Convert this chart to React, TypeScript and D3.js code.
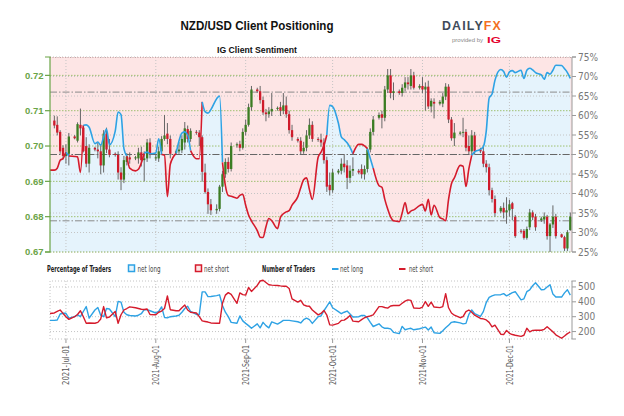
import React from "react";
import * as d3 from "d3";

// ---------- DATA ----------
// trading sessions shown on the chart (every day except Saturday), 2021-06-25 .. 2021-12-22
const sessions = d3.utcDay
  .range(new Date(Date.UTC(2021, 5, 25)), new Date(Date.UTC(2021, 11, 23)))
  .filter((d) => d.getUTCDay() !== 6);

// NZD/USD daily candles: [open, high, low, close]
const ohlc = [
  [0.7050, 0.7078, 0.7042, 0.7068], [0.7072, 0.7086, 0.7050, 0.7058], [0.7060, 0.7084, 0.7030, 0.7038], [0.7040, 0.7045, 0.6978, 0.6985], [0.6995, 0.7002, 0.6962, 0.6972],
  [0.6972, 0.7005, 0.6950, 0.6980], [0.6978, 0.7037, 0.6945, 0.7027], [0.7027, 0.7031, 0.7019, 0.7022], [0.7015, 0.7067, 0.7010, 0.7062], [0.7060, 0.7106, 0.7030, 0.7050],
  [0.7052, 0.7058, 0.6982, 0.6985], [0.7000, 0.7025, 0.6940, 0.6950], [0.6950, 0.7005, 0.6925, 0.6995], [0.6995, 0.6998, 0.6985, 0.6990], [0.6990, 0.7010, 0.6965, 0.6985],
  [0.6985, 0.7005, 0.6920, 0.6945], [0.6945, 0.7045, 0.6925, 0.7035], [0.7035, 0.7052, 0.6980, 0.6990], [0.6990, 0.7020, 0.6968, 0.6975], [0.6978, 0.6982, 0.6970, 0.6975],
  [0.6975, 0.6985, 0.6905, 0.6925], [0.6925, 0.6940, 0.6875, 0.6905], [0.6905, 0.6972, 0.6895, 0.6960], [0.6955, 0.6980, 0.6945, 0.6970], [0.6968, 0.6982, 0.6950, 0.6962],
  [0.6965, 0.6972, 0.6960, 0.6968], [0.6965, 0.6995, 0.6950, 0.6982], [0.6982, 0.6998, 0.6942, 0.6960], [0.6960, 0.6985, 0.6900, 0.6965], [0.6965, 0.7020, 0.6955, 0.7010],
  [0.7010, 0.7022, 0.6965, 0.6975], [0.6965, 0.6975, 0.6958, 0.6968], [0.6965, 0.6998, 0.6955, 0.6985], [0.6985, 0.7028, 0.6975, 0.7020], [0.7020, 0.7088, 0.7015, 0.7030],
  [0.7035, 0.7065, 0.7005, 0.7020], [0.7020, 0.7030, 0.6965, 0.6978], [0.6980, 0.6990, 0.6975, 0.6985], [0.6985, 0.7012, 0.6978, 0.6990], [0.6988, 0.7030, 0.6980, 0.7020],
  [0.7010, 0.7068, 0.6990, 0.7050], [0.7048, 0.7058, 0.7010, 0.7020], [0.7020, 0.7050, 0.7012, 0.7043], [0.7040, 0.7045, 0.7032, 0.7038], [0.7038, 0.7045, 0.7000, 0.7025],
  [0.7025, 0.7030, 0.6899, 0.6927], [0.6925, 0.6950, 0.6865, 0.6870], [0.6870, 0.6880, 0.6808, 0.6835], [0.6835, 0.6850, 0.6805, 0.6818], [0.6818, 0.6835, 0.6808, 0.6822],
  [0.6822, 0.6890, 0.6815, 0.6885], [0.6885, 0.6930, 0.6870, 0.6920], [0.6920, 0.6965, 0.6910, 0.6955], [0.6955, 0.6968, 0.6925, 0.6935], [0.6935, 0.7010, 0.6928, 0.7000],
  [0.7002, 0.7010, 0.6995, 0.7005], [0.7005, 0.7015, 0.6985, 0.6995], [0.6995, 0.7050, 0.6990, 0.7040], [0.7040, 0.7075, 0.7030, 0.7060], [0.7060, 0.7120, 0.7055, 0.7110],
  [0.7110, 0.7170, 0.7100, 0.7160], [0.7160, 0.7165, 0.7150, 0.7155], [0.7155, 0.7170, 0.7120, 0.7130], [0.7130, 0.7140, 0.7088, 0.7095], [0.7095, 0.7105, 0.7070, 0.7090],
  [0.7090, 0.7110, 0.7080, 0.7098], [0.7098, 0.7150, 0.7085, 0.7105], [0.7105, 0.7112, 0.7100, 0.7108], [0.7110, 0.7125, 0.7085, 0.7100], [0.7100, 0.7150, 0.7090, 0.7115],
  [0.7115, 0.7140, 0.7080, 0.7090], [0.7090, 0.7100, 0.7035, 0.7045], [0.7045, 0.7060, 0.7015, 0.7025], [0.7020, 0.7025, 0.7010, 0.7015], [0.7015, 0.7025, 0.6975, 0.6985],
  [0.6985, 0.7012, 0.6978, 0.6995], [0.6995, 0.7045, 0.6985, 0.7030], [0.7030, 0.7078, 0.7020, 0.7060], [0.7060, 0.7070, 0.7012, 0.7020], [0.7020, 0.7025, 0.7012, 0.7018],
  [0.7018, 0.7035, 0.6998, 0.7010], [0.7010, 0.7022, 0.6950, 0.6960], [0.6960, 0.6970, 0.6870, 0.6885], [0.6890, 0.6925, 0.6860, 0.6875], [0.6875, 0.6935, 0.6868, 0.6925],
  [0.6925, 0.6935, 0.6920, 0.6930], [0.6930, 0.6965, 0.6920, 0.6950], [0.6950, 0.6975, 0.6925, 0.6940], [0.6945, 0.6960, 0.6878, 0.6910], [0.6910, 0.6945, 0.6895, 0.6930],
  [0.6930, 0.6968, 0.6915, 0.6935], [0.6930, 0.6935, 0.6920, 0.6925], [0.6935, 0.6948, 0.6908, 0.6920], [0.6920, 0.6945, 0.6905, 0.6935], [0.6935, 0.6995, 0.6925, 0.6990],
  [0.6990, 0.7050, 0.6982, 0.7040], [0.7040, 0.7085, 0.7030, 0.7075], [0.7080, 0.7095, 0.7075, 0.7088], [0.7090, 0.7100, 0.7050, 0.7080], [0.7080, 0.7170, 0.7070, 0.7160],
  [0.7160, 0.7218, 0.7150, 0.7200], [0.7200, 0.7218, 0.7135, 0.7150], [0.7150, 0.7180, 0.7130, 0.7155], [0.7155, 0.7160, 0.7145, 0.7150], [0.7150, 0.7175, 0.7140, 0.7165],
  [0.7165, 0.7195, 0.7155, 0.7180], [0.7180, 0.7195, 0.7160, 0.7175], [0.7170, 0.7218, 0.7160, 0.7200], [0.7200, 0.7210, 0.7160, 0.7165], [0.7165, 0.7175, 0.7160, 0.7170],
  [0.7170, 0.7195, 0.7150, 0.7160], [0.7160, 0.7180, 0.7100, 0.7168], [0.7168, 0.7185, 0.7105, 0.7112], [0.7112, 0.7135, 0.7095, 0.7128], [0.7125, 0.7135, 0.7078, 0.7120],
  [0.7120, 0.7130, 0.7115, 0.7125], [0.7120, 0.7150, 0.7110, 0.7140], [0.7140, 0.7178, 0.7130, 0.7168], [0.7168, 0.7175, 0.7065, 0.7075], [0.7075, 0.7082, 0.7015, 0.7022],
  [0.7022, 0.7065, 0.7000, 0.7038], [0.7035, 0.7042, 0.7030, 0.7038], [0.7038, 0.7080, 0.7025, 0.7040], [0.7040, 0.7048, 0.6985, 0.6995], [0.7000, 0.7030, 0.6975, 0.6985],
  [0.6985, 0.7045, 0.6975, 0.7030], [0.7030, 0.7040, 0.6975, 0.6985], [0.6990, 0.6995, 0.6980, 0.6985], [0.6985, 0.6998, 0.6940, 0.6950], [0.6950, 0.6960, 0.6925, 0.6940],
  [0.6940, 0.6950, 0.6860, 0.6875], [0.6875, 0.6882, 0.6840, 0.6850], [0.6850, 0.6860, 0.6800, 0.6810], [0.6815, 0.6830, 0.6810, 0.6825], [0.6825, 0.6840, 0.6795, 0.6812],
  [0.6812, 0.6855, 0.6780, 0.6818], [0.6818, 0.6848, 0.6800, 0.6835], [0.6838, 0.6842, 0.6790, 0.6822], [0.6800, 0.6805, 0.6740, 0.6745], [0.6760, 0.6765, 0.6752, 0.6758],
  [0.6760, 0.6765, 0.6735, 0.6740], [0.6740, 0.6772, 0.6735, 0.6765], [0.6770, 0.6822, 0.6762, 0.6812], [0.6812, 0.6818, 0.6790, 0.6798], [0.6800, 0.6808, 0.6760, 0.6770],
  [0.6790, 0.6800, 0.6785, 0.6795], [0.6792, 0.6812, 0.6780, 0.6800], [0.6800, 0.6805, 0.6735, 0.6745], [0.6745, 0.6782, 0.6700, 0.6778], [0.6778, 0.6832, 0.6768, 0.6800],
  [0.6800, 0.6808, 0.6738, 0.6745], [0.6750, 0.6752, 0.6740, 0.6742], [0.6742, 0.6746, 0.6703, 0.6710], [0.6710, 0.6762, 0.6703, 0.6756], [0.6762, 0.6812, 0.6760, 0.6800],
];

// IG client sentiment: % of traders net long
const netLongPct = [
  46.0, 46.0, 46.5, 48.5, 49.0, 50.6, 49.6, 49.5, 49.4, 45.4,
  57.5, 57.6, 57.0, 52.8, 53.2, 52.4, 54.5, 56.5, 52.5, 56.0,
  60.9, 60.2, 51.5, 49.6, 46.5, 45.8, 46.2, 47.8, 50.3, 50.6,
  50.2, 50.4, 54.0, 50.0, 49.8, 39.2, 47.5, 50.3, 53.5, 55.5,
  55.8, 55.0, 51.0, 48.9, 48.9, 63.5, 61.0, 60.6, 61.5, 64.3,
  65.0, 48.0, 42.0, 39.5, 39.3, 38.8, 39.5, 39.8, 37.0, 34.5,
  33.0, 30.5, 28.8, 28.7, 31.5, 33.6, 33.0, 31.0, 33.9, 34.8,
  35.3, 35.6, 37.0, 39.2, 41.5, 43.5, 44.0, 41.0, 38.5, 49.3,
  50.6, 52.3, 55.0, 62.6, 62.3, 58.0, 54.5, 53.8, 53.0, 51.8,
  50.2, 52.6, 52.6, 52.2, 51.5, 49.0, 46.5, 42.0, 41.6, 38.5,
  36.0, 34.0, 33.0, 32.8, 35.0, 37.7, 34.8, 35.5, 35.8, 36.9,
  37.2, 35.5, 38.5, 34.5, 37.0, 33.8, 33.5, 33.0, 38.5, 42.5,
  44.0, 47.2, 47.0, 41.8, 46.3, 49.8, 50.7, 51.3, 52.0, 56.0,
  64.5, 65.5, 69.0, 71.8, 71.3, 69.8, 71.2, 71.5, 71.0, 71.6,
  69.5, 71.6, 72.1, 71.7, 71.0, 70.4, 69.3, 71.0, 70.6, 71.6,
  72.9, 72.8, 72.0, 71.0, 69.5,
];

// dominant side of the positioning signal per session (L = net long, S = net short)
const positioningSide = (
  "SSSSS" + "L" + "SSSS" + "LLLLLLLLLLLLL" + "SSSSS" + "LLLLL" + "SSSS" + "LLLLL" + "SSS" + "LLLLLL" +
  "SSSSSSSSSSSSSSSSSSSSSSSSSSSSSSS" + "LLLLLLLL" + "SSSS" + "LL" +
  "SSSSSSSSSSSSSSSSSSSSSSSSSSSSS" + "LLLLLLLLLLLLLLLLLLLLLLLLLLLLLL"
).split("");

// number of traders
const longTraders = [
  275, 275, 278, 318, 323, 323, 290, 300, 312, 300,
  335, 368, 290, 345, 362, 310, 300, 355, 352, 300,
  403, 398, 330, 313, 308, 305, 310, 320, 347, 347,
  340, 325, 335, 366, 295, 292, 300, 305, 310, 330,
  355, 370, 335, 315, 315, 467, 467, 435, 436, 442,
  447, 375, 330, 300, 262, 256, 305, 272, 255, 240,
  222, 252, 225, 262, 240, 225, 265, 250, 262, 275,
  275, 275, 272, 266, 258, 280, 290, 280, 255, 300,
  305, 340, 370, 400, 360, 334, 320, 330, 338, 318,
  298, 300, 308, 308, 292, 262, 234, 252, 232, 222,
  222, 218, 195, 186, 235, 212, 218, 222, 212, 219,
  225, 230, 210, 230, 192, 188, 205, 225, 243, 262,
  266, 258, 252, 255, 315, 345, 320, 302, 334, 395,
  430, 440, 447, 448, 455, 440, 450, 462, 468, 413,
  420, 468, 480, 508, 528, 481, 483, 500, 515, 452,
  432, 432, 460, 481, 445,
];
const shortTraders = [
  320, 325, 335, 345, 322, 300, 282, 300, 315, 340,
  300, 256, 258, 256, 262, 285, 368, 292, 298, 335,
  256, 313, 345, 355, 366, 360, 355, 350, 348, 352,
  315, 313, 330, 338, 355, 440, 347, 340, 340, 360,
  378, 345, 330, 325, 300, 272, 268, 264, 258, 256,
  256, 390, 445, 462, 450, 390, 460, 448, 445, 496,
  470, 510, 540, 545, 530, 515, 512, 510, 507, 505,
  505, 490, 420, 398, 410, 380, 372, 370, 345, 312,
  322, 342, 311, 245, 243, 255, 275, 277, 290, 308,
  270, 266, 280, 293, 300, 305, 312, 368, 368, 362,
  358, 372, 375, 375, 390, 405, 413, 410, 358, 356,
  365, 402, 370, 398, 365, 361, 368, 455, 360, 325,
  310, 293, 300, 334, 345, 330, 310, 288, 285, 278,
  262, 232, 243, 182, 180, 208, 188, 180, 175, 168,
  175, 222, 198, 208, 209, 209, 215, 232, 215, 198,
  178, 155, 170, 186, 197,
];

const priceTicks = [0.67, 0.68, 0.69, 0.70, 0.71, 0.72];
const pctTicks = [25, 30, 35, 40, 45, 50, 55, 60, 65, 70, 75];
const sentimentBands = [33, 50, 66];
const traderTicks = [200, 300, 400, 500];
const monthTicks = ["2021-07-01", "2021-08-01", "2021-09-01", "2021-10-01", "2021-11-01", "2021-12-01"];
const monthLabels = ["2021-Jul-01", "2021-Aug-01", "2021-Sep-01", "2021-Oct-01", "2021-Nov-01", "2021-Dec-01"];

// ---------- STYLE ----------
const BLUE = "#2ea2e4";
const RED = "#d51b2c";
const CANDLE_UP = "#3b7d23";
const CANDLE_DOWN = "#cf1b2b";
const WICK = "#666";
const AXIS_GREEN = "#6aa447";
const GRID_GREEN = "#9fc071";
const GRID_GRAY = "#c4c4c4";
const NARROW = "'Liberation Sans Narrow', 'DejaVu Sans Condensed', 'Liberation Sans', Arial, sans-serif";
const SANS = "'Liberation Sans', Arial, sans-serif";

export default function App() {
  const L = 50, R = 572, T = 57, B = 252;
  const LT = 281, LB = 339;

  const x = d3
    .scaleUtc()
    .domain([new Date(Date.UTC(2021, 5, 25, 12)), new Date(Date.UTC(2021, 11, 22, 14))])
    .range([L, R]);
  const yP = d3.scaleLinear().domain([0.67, 0.7252]).range([B, T]);
  const yS = d3.scaleLinear().domain([25, 75]).range([B, T]);
  const yT = d3.scaleLinear().domain([150, 540]).range([LB, LT]);

  const sentPts = sessions.map((d, i) => [x(d), yS(netLongPct[i])]);
  const areaBelow = d3
    .area()
    .x((p) => p[0])
    .y0(B)
    .y1((p) => p[1])
    .curve(d3.curveMonotoneX);
  const lineGen = d3
    .line()
    .x((p) => p[0])
    .y((p) => p[1])
    .curve(d3.curveMonotoneX);

  const runs = [];
  for (let i = 0; i < sentPts.length - 1; i++) {
    const s = positioningSide[i];
    const last = runs[runs.length - 1];
    if (last && last.side === s) last.pts.push(sentPts[i + 1]);
    else runs.push({ side: s, pts: [sentPts[i], sentPts[i + 1]] });
  }

  const traderLine = (vals) =>
    d3
      .line()
      .x((d, i) => x(sessions[i]))
      .y((d) => yT(d))
      .curve(d3.curveLinear)(vals);

  const months = monthTicks.map((m) => x(new Date(m + "T00:00:00Z")));
  const bodyW = 2.3;

  return (
    <svg
      width={624}
      height={416}
      viewBox="0 0 624 416"
      style={{ position: "absolute", left: 0, top: 0, background: "#fff" }}
    >
      <defs>
        <clipPath id="mainClip">
          <rect x={L} y={T} width={R - L} height={B - T} />
        </clipPath>
        <clipPath id="lowClip">
          <rect x={L} y={LT - 2} width={R - L} height={LB - LT + 4} />
        </clipPath>
      </defs>

      {/* titles */}
      <text x={257} y={30} textAnchor="middle" fontFamily={SANS} fontWeight="bold" fontSize={13} fill="#111" textLength={153} lengthAdjust="spacingAndGlyphs">
        NZD/USD Client Positioning
      </text>
      <text x={257} y={53} textAnchor="middle" fontFamily={SANS} fontWeight="bold" fontSize={9} fill="#111" textLength={80} lengthAdjust="spacingAndGlyphs">
        IG Client Sentiment
      </text>

      {/* logo */}
      <text x={442} y={29.5} fontFamily={SANS} fontWeight={600} fontSize={12.5} letterSpacing={1.2} textLength={60} lengthAdjust="spacingAndGlyphs">
        <tspan fill="#3f4b5a">DAILY</tspan>
        <tspan fill="#f37021">FX</tspan>
      </text>
      <text x={452} y={42} fontFamily={SANS} fontSize={5.5} fill="#888" textLength={31} lengthAdjust="spacingAndGlyphs">
        provided by
      </text>
      <text x={487} y={43} fontFamily={SANS} fontWeight="bold" fontSize={9.5} fill="#e4032e" textLength={14} lengthAdjust="spacingAndGlyphs">
        IG
      </text>

      {/* ---------- main panel ---------- */}
      <g clipPath="url(#mainClip)">
        <rect x={L} y={T} width={R - L} height={B - T} fill="#fde5e5" />
        <path d={areaBelow(sentPts)} fill="#e5f3fc" />
      </g>

      {/* grid */}
      {pctTicks.map((p) => (
        <line key={"pg" + p} x1={L} x2={R} y1={yS(p)} y2={yS(p)} stroke={GRID_GRAY} strokeWidth={1} strokeDasharray="1,2" />
      ))}
      {priceTicks.map((p) => (
        <line key={"g" + p} x1={L} x2={R} y1={yP(p)} y2={yP(p)} stroke={GRID_GREEN} strokeWidth={1} strokeDasharray="1.5,1.5" />
      ))}
      {months.map((m, i) => (
        <line key={"mv" + i} x1={m} x2={m} y1={T} y2={B} stroke={GRID_GRAY} strokeWidth={1} strokeDasharray="1,2" />
      ))}
      {sentimentBands.map((b) => (
        <line
          key={"b" + b}
          x1={L}
          x2={R}
          y1={yS(b)}
          y2={yS(b)}
          stroke={b === 50 ? "#666" : "#8a8a8a"}
          strokeWidth={1}
          strokeDasharray="7,2,1.5,2"
        />
      ))}
      <line x1={L} x2={R} y1={T + 0.5} y2={T + 0.5} stroke="#c8a4a4" strokeWidth={1} strokeDasharray="1,1.5" />

      {/* candles */}
      <g clipPath="url(#mainClip)">
        {ohlc.map(([o, h, l, c], i) => {
          const cx = x(sessions[i]);
          const up = c >= o;
          const top = yP(Math.max(o, c));
          const hgt = Math.max(0.9, Math.abs(yP(o) - yP(c)));
          return (
            <g key={"c" + i}>
              <line x1={cx} x2={cx} y1={yP(h)} y2={yP(l)} stroke={WICK} strokeWidth={1} />
              <rect x={cx - bodyW / 2} y={top} width={bodyW} height={hgt} fill={up ? CANDLE_UP : CANDLE_DOWN} />
            </g>
          );
        })}
        {runs.map((r, i) => (
          <path key={"r" + i} d={lineGen(r.pts)} fill="none" stroke={r.side === "L" ? BLUE : RED} strokeWidth={1.6} strokeLinejoin="round" />
        ))}
      </g>

      {/* left axis */}
      <path d={`M${L - 5},${T}H${L}V${B}H${L - 5}`} fill="none" stroke={AXIS_GREEN} strokeWidth={1.2} />
      {priceTicks.map((p) => (
        <g key={"la" + p}>
          <line x1={L - 5} x2={L} y1={yP(p)} y2={yP(p)} stroke={AXIS_GREEN} strokeWidth={1.2} />
          <text x={L - 6.5} y={yP(p)} dy="0.35em" textAnchor="end" fontFamily={SANS} fontWeight="bold" fontSize={9.5} fill={AXIS_GREEN}>
            {p.toFixed(2)}
          </text>
        </g>
      ))}

      {/* right axis */}
      <path d={`M${R + 4},${T}H${R}V${B}H${R + 4}`} fill="none" stroke="#9a9a9a" strokeWidth={1} />
      {pctTicks.map((p) => (
        <g key={"ra" + p}>
          <line x1={R} x2={R + 4} y1={yS(p)} y2={yS(p)} stroke="#9a9a9a" strokeWidth={1} />
          <text x={R + 6} y={yS(p)} dy="0.35em" fontFamily={NARROW} fontSize={10} fill="#777">
            {p + "%"}
          </text>
        </g>
      ))}

      {/* ---------- legend ---------- */}
      <text x={47} y={272} fontFamily={NARROW} fontWeight="bold" fontSize={8} fill="#222" textLength={64} lengthAdjust="spacingAndGlyphs">
        Percentage of Traders
      </text>
      <rect x={128.5} y={265} width={6} height={6.5} fill="#e6f4fc" stroke={BLUE} strokeWidth={1.5} />
      <text x={137.5} y={272} fontFamily={NARROW} fontSize={8} fill="#444" textLength={23} lengthAdjust="spacingAndGlyphs">
        net long
      </text>
      <rect x={195.5} y={265} width={6} height={6.5} fill="#fde5e5" stroke={RED} strokeWidth={1.5} />
      <text x={204} y={272} fontFamily={NARROW} fontSize={8} fill="#444" textLength={25} lengthAdjust="spacingAndGlyphs">
        net short
      </text>
      <text x={262} y={272} fontFamily={NARROW} fontWeight="bold" fontSize={8} fill="#222" textLength={53} lengthAdjust="spacingAndGlyphs">
        Number of Traders
      </text>
      <line x1={332} x2={338.5} y1={269} y2={269} stroke={BLUE} strokeWidth={2} />
      <text x={340} y={272} fontFamily={NARROW} fontSize={8} fill="#444" textLength={23} lengthAdjust="spacingAndGlyphs">
        net long
      </text>
      <line x1={399} x2={405.5} y1={269} y2={269} stroke={RED} strokeWidth={2} />
      <text x={409} y={272} fontFamily={NARROW} fontSize={8} fill="#444" textLength={24} lengthAdjust="spacingAndGlyphs">
        net short
      </text>

      {/* ---------- lower panel ---------- */}
      {traderTicks.map((t) => (
        <line key={"tg" + t} x1={L} x2={R} y1={yT(t)} y2={yT(t)} stroke={GRID_GRAY} strokeWidth={1} strokeDasharray="1,2" />
      ))}
      {months.map((m, i) => (
        <line key={"lv" + i} x1={m} x2={m} y1={LT} y2={LB} stroke={GRID_GRAY} strokeWidth={1} strokeDasharray="1,2" />
      ))}
      <path d={`M${R},${LT}H${L}V${LB}H${R}`} fill="none" stroke={GRID_GRAY} strokeWidth={1} strokeDasharray="1,2" />
      <g clipPath="url(#lowClip)">
        <path d={traderLine(longTraders)} fill="none" stroke={BLUE} strokeWidth={1.4} strokeLinejoin="round" />
        <path d={traderLine(shortTraders)} fill="none" stroke={RED} strokeWidth={1.4} strokeLinejoin="round" />
      </g>
      <path d={`M${R + 4},${LT}H${R}V${LB}H${R + 4}`} fill="none" stroke="#9a9a9a" strokeWidth={1} />
      {traderTicks.map((t) => (
        <g key={"ta" + t}>
          <line x1={R} x2={R + 4} y1={yT(t)} y2={yT(t)} stroke="#9a9a9a" strokeWidth={1} />
          <text x={R + 6} y={yT(t)} dy="0.35em" fontFamily={NARROW} fontSize={10} fill="#777">
            {t}
          </text>
        </g>
      ))}

      {/* x axis */}
      {months.map((m, i) => (
        <g key={"xa" + i}>
          <line x1={m} x2={m} y1={LB} y2={LB + 4} stroke="#9a9a9a" strokeWidth={1} />
          <text
            transform={`translate(${m},${345}) rotate(-90)`}
            dy="0.35em"
            textAnchor="end"
            fontFamily={NARROW}
            fontSize={9.5}
            fill="#555"
            textLength={40}
            lengthAdjust="spacingAndGlyphs"
          >
            {monthLabels[i]}
          </text>
        </g>
      ))}
    </svg>
  );
}
